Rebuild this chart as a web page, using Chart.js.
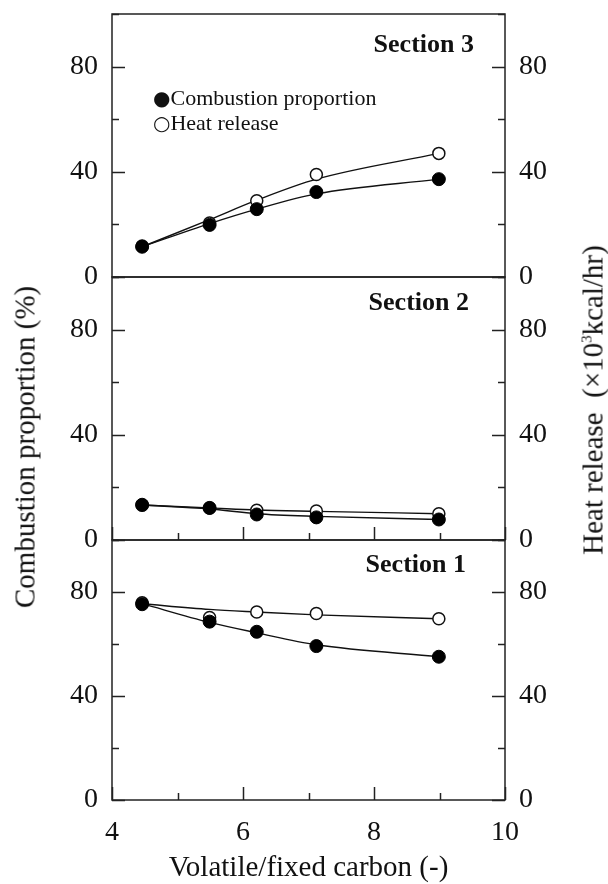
<!DOCTYPE html>
<html lang="en">

<head>
    <meta charset="UTF-8">
    <script src="https://cdn.jsdelivr.net/npm/chart.js"></script>
    <title>Combustion proportion and heat release</title>
    <style>
        body { margin: 0; background: #fff; }
        .fig { position: relative; width: 608px; height: 884px; font-family: 'Liberation Serif', serif; color: #111; }
        .fig canvas { position: absolute; left: 0; }
        .sec { position: absolute; font-weight: bold; font-size: 26px; line-height: 26px; white-space: nowrap; }
        .leg { position: absolute; font-size: 22px; line-height: 22px; white-space: nowrap; }
        .leg span { font-family: 'DejaVu Sans', sans-serif; font-size: 20px; }
        .ytitle { position: absolute; font-size: 29px; white-space: nowrap; transform: translate(-50%, -50%) rotate(-90deg); }
        .ytitle sup { font-size: 15px; }
    </style>
</head>

<body>

    <div class="fig">
        <canvas id="sec3" width="608" height="300" style="top:0px"></canvas>
        <canvas id="sec2" width="608" height="300" style="top:262px"></canvas>
        <canvas id="sec1" width="608" height="359" style="top:525px"></canvas>

        <div class="sec" style="right:134px; top:31px">Section 3</div>
        <div class="sec" style="right:139px; top:289px">Section 2</div>
        <div class="sec" style="right:142px; top:551px">Section 1</div>

        <div class="leg" style="left:153px; top:87px"><span>●</span>Combustion proportion</div>
        <div class="leg" style="left:153px; top:112px"><span>○</span>Heat release</div>

        <div class="ytitle" style="left:25px; top:447px">Combustion proportion (%)</div>
        <div class="ytitle" style="left:593px; top:400px">Heat release &nbsp;(×10<sup>3</sup>kcal/hr)</div>
    </div>

</body>

</html>

<script>
    // valores (x = volatile/fixed carbon)
    const volatileRatio = [4.46, 5.49, 6.21, 7.12, 8.99];

    const sec3Combustion = [11.5, 19.8, 25.8, 32.3, 37.2];
    const sec3Heat = [11.8, 20.5, 29.0, 39.0, 47.0];
    const sec3CombustionFit = [11.5, 20.3, 25.8, 31.6, 37.2];
    const sec3HeatFit = [11.5, 21.8, 29.2, 37.2, 47.0];

    const sec2Combustion = [13.4, 12.2, 9.7, 8.6, 7.8];
    const sec2Heat = [13.2, 12.2, 11.3, 11.0, 10.0];
    const sec2CombustionFit = [13.3, 11.8, 10.0, 9.0, 7.8];
    const sec2HeatFit = [13.3, 12.2, 11.4, 10.9, 10.0];

    const sec1Combustion = [75.3, 68.6, 64.7, 59.2, 55.1];
    const sec1Heat = [75.9, 70.2, 72.3, 71.7, 69.7];
    const sec1CombustionFit = [75.5, 68.3, 64.3, 59.7, 55.1];
    const sec1HeatFit = [75.5, 73.3, 72.3, 71.2, 69.7];

    const xTickLabels = [4, 6, 8, 10];
    const yTickLabels = [0, 40, 80];

    const fonte = { family: 'Liberation Serif', size: 28 };

    function pares(ys) {
        return volatileRatio.map((x, i) => ({ x: x, y: ys[i] }));
    }

    // moldura e ticks para dentro
    const moldura = {
        id: 'moldura',
        afterDatasetsDraw(chart, args, opts) {
            const ctx = chart.ctx;
            const a = chart.chartArea;
            const sx = chart.scales.x;
            const sy = chart.scales.y;
            ctx.save();
            ctx.strokeStyle = '#222';
            ctx.lineWidth = 1.5;
            ctx.strokeRect(a.left, a.top, a.right - a.left, a.bottom - a.top);
            ctx.beginPath();
            sy.ticks.forEach(t => {
                const py = Math.round(sy.getPixelForValue(t.value)) + 0.5;
                const len = t.value % 40 === 0 ? 13 : 7;
                ctx.moveTo(a.left, py); ctx.lineTo(a.left + len, py);
                ctx.moveTo(a.right, py); ctx.lineTo(a.right - len, py);
            });
            if (opts.xTicks) {
                sx.ticks.forEach(t => {
                    const px = Math.round(sx.getPixelForValue(t.value)) + 0.5;
                    const len = t.value % 2 === 0 ? 13 : 7;
                    ctx.moveTo(px, a.bottom); ctx.lineTo(px, a.bottom - len);
                });
            }
            ctx.stroke();
            ctx.restore();
        }
    };

    function criarPainel(id, comb, heat, combFit, heatFit, cfg) {
        const ctx = document.getElementById(id).getContext('2d');
        return new Chart(ctx, {
            type: 'scatter',
            data: {
                datasets: [
                    {
                        label: 'Combustion proportion',
                        data: pares(comb),
                        pointRadius: 6.5,
                        pointBackgroundColor: '#000',
                        pointBorderColor: '#000',
                        pointBorderWidth: 1,
                        showLine: false
                    },
                    {
                        label: 'Heat release',
                        data: pares(heat),
                        pointRadius: 6,
                        pointBackgroundColor: '#fff',
                        pointBorderColor: '#111',
                        pointBorderWidth: 1.5,
                        showLine: false
                    },
                    {
                        label: 'fit combustion',
                        data: pares(combFit),
                        showLine: true,
                        pointRadius: 0,
                        borderColor: '#111',
                        borderWidth: 1.4,
                        cubicInterpolationMode: 'monotone'
                    },
                    {
                        label: 'fit heat',
                        data: pares(heatFit),
                        showLine: true,
                        pointRadius: 0,
                        borderColor: '#111',
                        borderWidth: 1.4,
                        cubicInterpolationMode: 'monotone'
                    }
                ]
            },
            options: {
                responsive: false,
                animation: false,
                layout: { padding: { top: cfg.top, left: 0, right: 0, bottom: 0 } },
                scales: {
                    x: {
                        type: 'linear',
                        min: 4,
                        max: 10,
                        grid: { display: false, drawTicks: false },
                        border: { display: false },
                        ticks: {
                            display: cfg.xLabels,
                            stepSize: 1,
                            padding: 16,
                            color: '#111',
                            font: fonte,
                            maxRotation: 0,
                            autoSkip: false,
                            callback: v => xTickLabels.includes(v) ? v : ''
                        },
                        title: {
                            display: cfg.xLabels,
                            text: 'Volatile/fixed carbon (-)',
                            color: '#111',
                            font: { family: 'Liberation Serif', size: 29 },
                            padding: { top: 0, bottom: -2 }
                        },
                        afterFit: s => {
                            s.height = cfg.xHeight;
                            s.paddingLeft = 0;
                            s.paddingRight = 0;
                        }
                    },
                    y: {
                        position: 'left',
                        min: 0,
                        max: 100,
                        grid: { display: false, drawTicks: false },
                        border: { display: false },
                        ticks: {
                            stepSize: 20,
                            padding: 14,
                            color: '#111',
                            font: fonte,
                            callback: v => yTickLabels.includes(v) ? v : ''
                        },
                        afterFit: s => {
                            s.width = 112;
                            s.paddingTop = 0;
                            s.paddingBottom = 0;
                        }
                    },
                    y2: {
                        position: 'right',
                        min: 0,
                        max: 100,
                        grid: { display: false, drawTicks: false },
                        border: { display: false },
                        ticks: {
                            stepSize: 20,
                            padding: 14,
                            color: '#111',
                            font: fonte,
                            callback: v => yTickLabels.includes(v) ? v : ''
                        },
                        afterFit: s => {
                            s.width = 103;
                            s.paddingTop = 0;
                            s.paddingBottom = 0;
                        }
                    }
                },
                plugins: {
                    legend: { display: false },
                    tooltip: { enabled: false },
                    moldura: { xTicks: cfg.xTicks }
                }
            },
            plugins: [moldura]
        });
    }

    window.onload = function () {
        criarPainel('sec3', sec3Combustion, sec3Heat, sec3CombustionFit, sec3HeatFit,
            { top: 14, xHeight: 23, xLabels: false, xTicks: false });
        criarPainel('sec2', sec2Combustion, sec2Heat, sec2CombustionFit, sec2HeatFit,
            { top: 15, xHeight: 22, xLabels: false, xTicks: true });
        criarPainel('sec1', sec1Combustion, sec1Heat, sec1CombustionFit, sec1HeatFit,
            { top: 15, xHeight: 84, xLabels: true, xTicks: true });
    };
</script>
